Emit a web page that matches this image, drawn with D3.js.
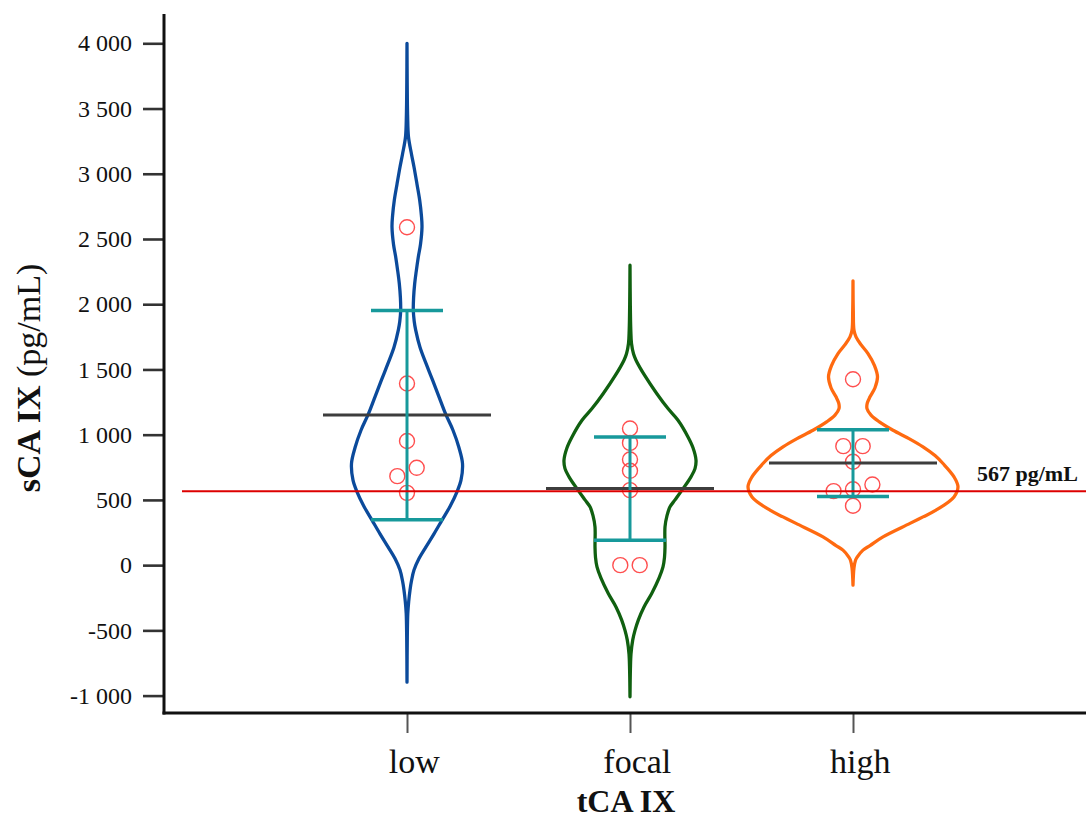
<!DOCTYPE html>
<html>
<head>
<meta charset="utf-8">
<script src="https://cdn.jsdelivr.net/npm/d3@7"></script>
<style>
  html, body { margin: 0; padding: 0; background: #fff; }
  svg { display: block; }
  svg text { font-family: "Liberation Serif", "Times New Roman", serif; }
</style>
</head>
<body>
<svg id="chart" width="1086" height="821"></svg>
<script>
// ---- data ----------------------------------------------------------------
const categories = ["low", "focal", "high"];

const yTickValues = [-1000, -500, 0, 500, 1000, 1500, 2000, 2500, 3000, 3500, 4000];
const yTickLabels = ["-1 000", "-500", "0", "500", "1 000", "1 500", "2 000", "2 500", "3 000", "3 500", "4 000"];

const cutoff = 567;
const cutoffLabel = "567 pg/mL";

// individual sCA IX measurements (pg/mL) and their jitter slot
const lowValues   = [2590, 1392, 952, 746, 682, 554];
const lowJitter   = [0, 0, 0, 1, -1, 0];
const focalValues = [1047, 937, 810, 723, 575, 0, 0];
const focalJitter = [0, 0, 0, 0, 0, -1, 1];
const highValues  = [1425, 912, 912, 792, 567, 582, 618, 455];
const highJitter  = [0, -1, 1, 0, -2, 0, 2, 0];

// group mean and standard deviation (pg/mL)
const groupMeans = [1150, 587, 782];
const groupSDs   = [802, 396, 256];

// kernel density profiles: sCA IX level (pg/mL) and relative density
const lowLevels = [4000, 3700, 3450, 3282, 3150, 3052, 2920, 2797, 2680, 2593, 2460, 2362, 2250, 2159, 2050, 1954, 1870, 1801, 1670, 1546, 1420, 1290, 1157, 1034, 900, 779, 651, 562, 450, 345, 240, 140, 50, -38, -120, -192, -280, -368, -550, -897];
const lowDensity = [0, 0.2, 0.6, 1.5, 4.5, 7, 10, 12.7, 14.4, 15, 13.5, 11.3, 9.2, 7.7, 6.6, 6.3, 7.2, 8.7, 13, 19, 25.5, 32, 38.7, 46, 52, 55.5, 54, 50, 43, 35, 27, 19, 12, 7, 4.5, 3, 1.7, 0.8, 0.3, 0];

const focalLevels = [2299, 2000, 1800, 1699, 1620, 1571, 1450, 1316, 1200, 1111, 983, 900, 805, 740, 677, 575, 500, 447, 380, 294, 140, 60, -13, -100, -217, -320, -421, -500, -575, -680, -800, -1009];
const focalDensity = [0, 0.3, 0.8, 1.5, 3.5, 6, 15, 26.7, 38, 48, 58, 63, 66, 65, 61, 52, 45, 40, 37, 35, 35, 34.5, 33, 29, 21.7, 14, 8.3, 5, 2.7, 1, 0.4, 0];

const highLevels = [2179, 1950, 1800, 1750, 1690, 1622, 1530, 1443, 1360, 1290, 1240, 1200, 1150, 1100, 1034, 970, 907, 840, 779, 677, 600, 523, 421, 370, 320, 217, 150, 115, 60, 38, -20, -80, -153];
const highDensity = [0, 0.3, 1, 3, 8, 15, 21.5, 24.5, 22, 17, 14.2, 14, 18, 26, 40, 56, 70, 82, 90, 101, 105, 101, 83, 70, 57, 30, 17, 10, 4, 2.5, 1, 0.4, 0];

const groups = [
  { name: "low",   color: "#0b4a9b", values: lowValues,   jitter: lowJitter,   levels: lowLevels,   density: lowDensity },
  { name: "focal", color: "#106010", values: focalValues, jitter: focalJitter, levels: focalLevels, density: focalDensity },
  { name: "high",  color: "#ff6a10", values: highValues,  jitter: highJitter,  levels: highLevels,  density: highDensity }
];
groups.forEach((g, i) => { g.mean = groupMeans[i]; g.sd = groupSDs[i]; });

// ---- layout --------------------------------------------------------------
const serif = '"Liberation Serif", "Times New Roman", serif';
const svg = d3.select("#chart");
const axisLeftX = 164, axisTopY = 14, axisBottomY = 713, axisRightX = 1086;

const y = d3.scaleLinear().domain([-1000, 4000]).range([695.6, 43.3]);
const x = d3.scalePoint().domain(categories).range([184, 1076]).padding(1);
const w = d3.scaleLinear().domain([0, 100]).range([0, 100]);
const jitterStep = 9.7;

// ---- violins ------------------------------------------------------------
const violinArea = d3.area()
  .x0(d => -w(d[1]))
  .x1(d => w(d[1]))
  .y(d => y(d[0]))
  .curve(d3.curveCatmullRom.alpha(0.5));

const gViolins = svg.append("g");
groups.forEach(g => {
  const prof = g.levels.map((v, i) => [v, g.density[i]]);
  gViolins.append("path")
    .attr("transform", `translate(${x(g.name)},0)`)
    .attr("d", violinArea(prof))
    .attr("fill", "none")
    .attr("stroke", g.color)
    .attr("stroke-width", 3.3)
    .attr("stroke-linejoin", "round");
});

// ---- individual points ---------------------------------------------------
const gPoints = svg.append("g");
groups.forEach(g => {
  gPoints.selectAll(null)
    .data(g.values.map((v, i) => ({ v, j: g.jitter[i] })))
    .join("circle")
    .attr("cx", d => x(g.name) + d.j * jitterStep)
    .attr("cy", d => y(d.v))
    .attr("r", 7.5)
    .attr("fill", "none")
    .attr("stroke", "#ff4f4f")
    .attr("stroke-width", 1.4);
});

// ---- mean lines ----------------------------------------------------------
const meanHalf = 84;
svg.append("g").selectAll("line")
  .data(groups)
  .join("line")
  .attr("x1", d => x(d.name) - meanHalf)
  .attr("x2", d => x(d.name) + meanHalf)
  .attr("y1", d => y(d.mean))
  .attr("y2", d => y(d.mean))
  .attr("stroke", "#3d3d3d")
  .attr("stroke-width", 3);

// ---- SD error bars -------------------------------------------------------
const capHalf = 36;
const gErr = svg.append("g").attr("stroke", "#17999b");
groups.forEach(g => {
  const cx = x(g.name);
  const lo = y(g.mean - g.sd), hi = y(g.mean + g.sd);
  gErr.append("line").attr("x1", cx).attr("x2", cx).attr("y1", hi).attr("y2", lo).attr("stroke-width", 3);
  gErr.append("line").attr("x1", cx - capHalf).attr("x2", cx + capHalf).attr("y1", hi).attr("y2", hi).attr("stroke-width", 3.5);
  gErr.append("line").attr("x1", cx - capHalf).attr("x2", cx + capHalf).attr("y1", lo).attr("y2", lo).attr("stroke-width", 3.5);
});

// ---- cut-off line --------------------------------------------------------
svg.append("line")
  .attr("x1", 182).attr("x2", axisRightX)
  .attr("y1", y(cutoff)).attr("y2", y(cutoff))
  .attr("stroke", "#dd0000")
  .attr("stroke-width", 2);
svg.append("text")
  .attr("x", 977).attr("y", y(cutoff) - 10)
  .style("font-family", serif)
  .attr("font-size", 22).attr("font-weight", "bold")
  .attr("fill", "#111")
  .text(cutoffLabel);

// ---- axes ----------------------------------------------------------------
const yAxis = d3.axisLeft(y)
  .tickValues(yTickValues)
  .tickFormat((d, i) => yTickLabels[i])
  .tickSize(21)
  .tickPadding(11);
const gy = svg.append("g").attr("transform", `translate(${axisLeftX},0)`).call(yAxis);
gy.select(".domain").remove();
gy.selectAll(".tick line").attr("stroke", "#333").attr("stroke-width", 2.6);
gy.selectAll(".tick text")
  .style("font-family", serif)
  .attr("font-size", 24).attr("fill", "#111");

const xAxis = d3.axisBottom(x).tickSize(20).tickPadding(16);
const gx = svg.append("g").attr("transform", `translate(0,${axisBottomY})`).call(xAxis);
gx.select(".domain").remove();
gx.selectAll(".tick line").attr("stroke", "#555").attr("stroke-width", 2);
gx.selectAll(".tick text")
  .style("font-family", serif)
  .attr("dx", "0.2em")
  .attr("font-size", 34).attr("fill", "#111");

// axis lines
svg.append("line").attr("x1", axisLeftX).attr("x2", axisLeftX)
  .attr("y1", axisTopY).attr("y2", axisBottomY + 1.5)
  .attr("stroke", "#111").attr("stroke-width", 3);
svg.append("line").attr("x1", axisLeftX - 1.5).attr("x2", axisRightX)
  .attr("y1", axisBottomY).attr("y2", axisBottomY)
  .attr("stroke", "#111").attr("stroke-width", 3);

// axis titles
svg.append("text")
  .attr("x", 626).attr("y", 812)
  .attr("text-anchor", "middle")
  .style("font-family", serif)
  .attr("font-size", 32).attr("font-weight", "bold").attr("fill", "#111")
  .text("tCA IX");

const yTitle = svg.append("text")
  .attr("transform", "translate(40,378) rotate(-90)")
  .attr("text-anchor", "middle")
  .style("font-family", serif)
  .attr("font-size", 34).attr("fill", "#111");
yTitle.append("tspan").attr("font-weight", "bold").text("sCA IX");
yTitle.append("tspan").text(" (pg/mL)");
</script>
</body>
</html>
